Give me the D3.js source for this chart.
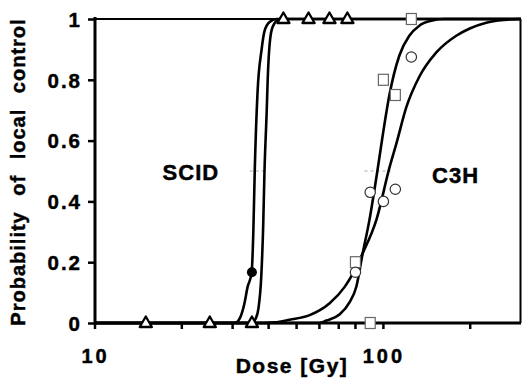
<!DOCTYPE html>
<html>
<head>
<meta charset="utf-8">
<script src="https://cdn.jsdelivr.net/npm/d3@7"></script>
<style>
  html, body { margin: 0; padding: 0; background: #fff; }
  svg { display: block; font-family: "Liberation Sans", Arial, Helvetica, sans-serif; font-weight: bold; }
  svg text { stroke: #000; stroke-width: 0.45px; fill: #000; }
</style>
</head>
<body>
<svg id="chart" width="522" height="385"></svg>
<script>
// ---- data ----
const xTickValues = [10, 100];
const xMinorTicks = [20, 30, 40, 50, 60, 70, 80, 90, 200];
const yTickValues = [0, 0.2, 0.4, 0.6, 0.8, 1];
const yTickLabels = ["0", "0.2", "0.4", "0.6", "0.8", "1"];

// SCID observations
const scidTriangles = [[15, 0], [25, 0], [35, 0], [45, 1], [55, 1], [65, 1], [75, 1]];
const scidFilled = [[35, 0.167]];
// C3H observations
const c3hCircles = [[80, 0.167], [90, 0.43], [100, 0.40], [110, 0.44], [125, 0.875]];
const c3hSquares = [[80, 0.2], [90, 0], [100, 0.8], [110, 0.75], [125, 1]];

// fitted curves (dose, probability)
const scidCurveA = [[10, 0], [30, 0], [31.0, 0.003], [31.8, 0.016], [33.0, 0.066], [33.8, 0.118], [34.9, 0.164], [35.4, 0.30], [35.8, 0.5], [36.6, 0.757], [37.8, 0.898], [38.7, 0.96], [40.3, 0.99], [42.6, 1], [300, 1]];
const scidCurveB = [[10, 0], [34, 0], [35.2, 0.003], [36.1, 0.015], [36.9, 0.05], [37.7, 0.15], [38.3, 0.32], [38.7, 0.5], [39.4, 0.7], [39.7, 0.8], [40.3, 0.915], [41.3, 0.974], [43.7, 1], [300, 1]];
const c3hSteep = [[10, 0], [60, 0], [63.5, 0.008], [70.4, 0.028], [76.3, 0.068], [80.6, 0.12], [84.6, 0.225], [89.5, 0.34], [95.3, 0.5], [99.2, 0.61], [104.9, 0.75], [113.6, 0.88], [123.0, 0.945], [133.2, 0.978], [147.8, 0.995], [162, 1], [300, 1]];
const c3hShallow = [[10, 0], [38, 0], [42.0, 0.002], [47.3, 0.011], [55.5, 0.026], [65.1, 0.065], [73.3, 0.118], [78.1, 0.16], [84.6, 0.228], [94.6, 0.34], [104.9, 0.51], [110.9, 0.59], [120.1, 0.71], [133.2, 0.81], [152.6, 0.89], [178.9, 0.945], [198.4, 0.968], [227.2, 0.988], [262.2, 0.997], [298, 1], [300, 1]];

// faint TCD50 markers at p = 0.5
const tcd50Marks = [[34.4, 39.4], [86, 106]];

const groupLabels = [{ text: "SCID", x: 21.5, y: 0.47 }, { text: "C3H", x: 178, y: 0.46 }];

// ---- drawing ----
const svg = d3.select("#chart");
const x = d3.scaleLog().domain([10, 300]).range([95, 521]);
const y = d3.scaleLinear().domain([0, 1]).range([323, 19]);

// frame top & right
svg.append("line").attr("x1", x(10)).attr("x2", x(300)).attr("y1", y(1)).attr("y2", y(1))
  .attr("stroke", "#000").attr("stroke-width", 2);
svg.append("line").attr("x1", x(300) - 0.5).attr("x2", x(300) - 0.5).attr("y1", y(1)).attr("y2", y(0))
  .attr("stroke", "#000").attr("stroke-width", 2);

// faint TCD50 dashes
svg.selectAll(".tcd").data(tcd50Marks).enter().append("line")
  .attr("x1", d => x(d[0])).attr("x2", d => x(d[1]))
  .attr("y1", y(0.5)).attr("y2", y(0.5))
  .attr("stroke", "#aaa").attr("stroke-width", 1).attr("stroke-dasharray", "3,3");

// axes
const xAxis = d3.axisBottom(x).tickValues(xTickValues).tickFormat(d3.format("d")).tickSize(0).tickPadding(0);
const gx = svg.append("g").attr("transform", `translate(0,${y(0)})`).call(xAxis);
gx.select(".domain").attr("stroke", "#000").attr("stroke-width", 3).attr("d", `M${x(10)},0H${x(300)}`);
gx.selectAll("text").attr("y", 40).attr("dy", 0).attr("font-size", 20).attr("font-weight", "bold")
  .attr("letter-spacing", "3px").attr("fill", "#000");

const gxm = svg.append("g").attr("transform", `translate(0,${y(0)})`);
gxm.selectAll("line").data(xMinorTicks.concat(xTickValues)).enter().append("line")
  .attr("x1", d => x(d)).attr("x2", d => x(d)).attr("y1", 0).attr("y2", 6)
  .attr("stroke", "#000").attr("stroke-width", 2.5);

const yAxis = d3.axisLeft(y).tickValues(yTickValues).tickFormat((d, i) => yTickLabels[i]).tickSize(7).tickPadding(6);
const gy = svg.append("g").attr("transform", `translate(${x(10)},0)`).call(yAxis);
gy.select(".domain").attr("stroke", "#000").attr("stroke-width", 3).attr("d", `M0,${y(1) - 2}V${y(0) + 1}`);
gy.selectAll(".tick line").attr("stroke", "#000").attr("stroke-width", 2.5);
gy.selectAll("text").attr("font-size", 20.5).attr("font-weight", "bold").attr("fill", "#000")
  .attr("letter-spacing", "2px").attr("dy", "0.36em");

// axis titles
svg.append("text").attr("x", 292).attr("y", 373).attr("text-anchor", "middle")
  .attr("font-size", 21).attr("letter-spacing", "1.5px").text("Dose [Gy]");
svg.append("text").attr("transform", "translate(25,172) rotate(-90)").attr("text-anchor", "middle")
  .attr("font-size", 20).attr("letter-spacing", "1px").attr("word-spacing", "9px").text("Probability of local control");

// group labels
svg.selectAll(".glab").data(groupLabels).enter().append("text")
  .attr("x", d => x(d.x)).attr("y", d => y(d.y)).attr("text-anchor", "middle")
  .attr("font-size", 22).attr("letter-spacing", "1px").text(d => d.text);

// curves
const line = d3.line().x(d => x(d[0])).y(d => y(d[1])).curve(d3.curveMonotoneX);
[scidCurveA, scidCurveB, c3hSteep, c3hShallow].forEach(c => {
  svg.append("path").attr("d", line(c)).attr("fill", "none").attr("stroke", "#000")
    .attr("stroke-width", 2.6).attr("stroke-linejoin", "round");
});

// markers
svg.selectAll(".sq").data(c3hSquares).enter().append("rect")
  .attr("x", d => x(d[0]) - 5).attr("y", d => y(d[1]) - 5.5).attr("width", 10).attr("height", 11)
  .attr("fill", "#fff").attr("stroke", "#666").attr("stroke-width", 1.2);
svg.selectAll(".ci").data(c3hCircles).enter().append("circle")
  .attr("cx", d => x(d[0])).attr("cy", d => y(d[1])).attr("r", 5.2)
  .attr("fill", "#fff").attr("stroke", "#333").attr("stroke-width", 1.2);
const tri = d3.symbol().type(d3.symbolTriangle).size(64);
svg.selectAll(".tri").data(scidTriangles).enter().append("path")
  .attr("d", tri).attr("transform", d => `translate(${x(d[0])},${y(d[1]) + 0.5})`)
  .attr("fill", "#fff").attr("stroke", "#000").attr("stroke-width", 2.3).attr("stroke-linejoin", "round");
svg.selectAll(".fc").data(scidFilled).enter().append("circle")
  .attr("cx", d => x(d[0])).attr("cy", d => y(d[1])).attr("r", 5)
  .attr("fill", "#000");
</script>
</body>
</html>
